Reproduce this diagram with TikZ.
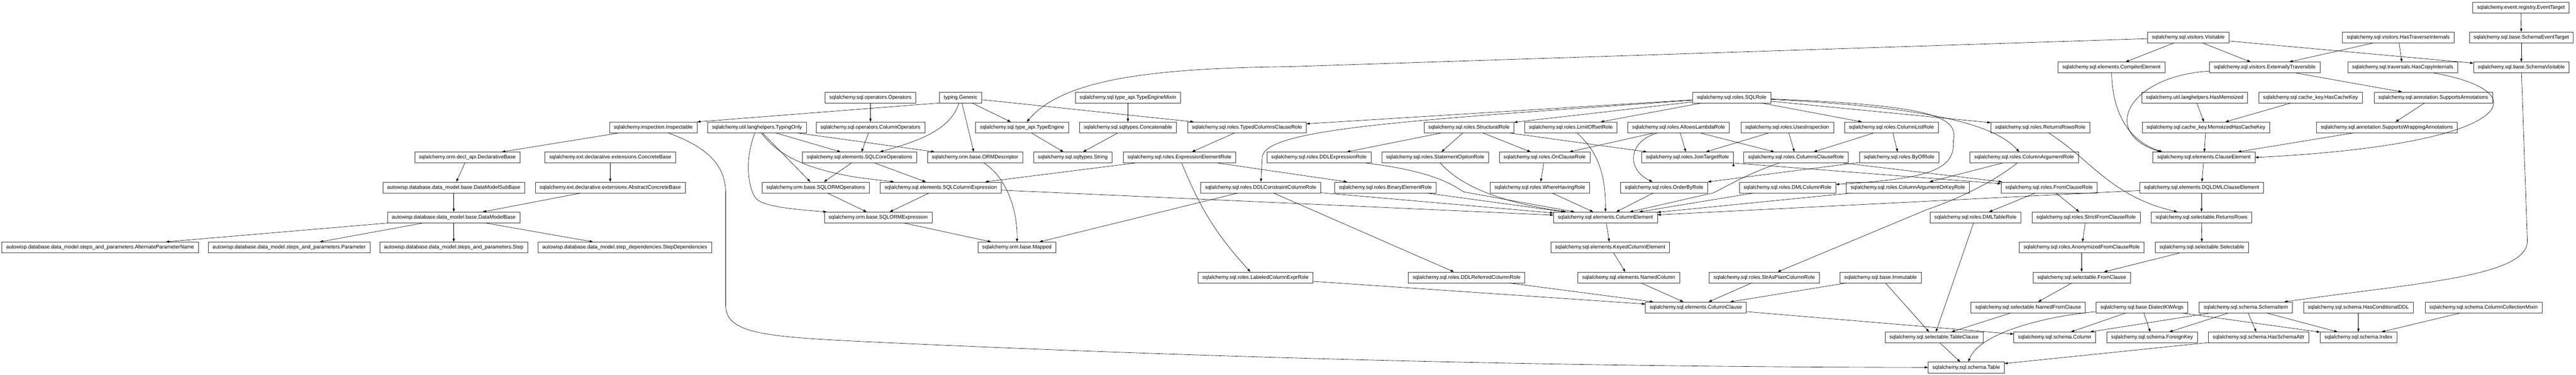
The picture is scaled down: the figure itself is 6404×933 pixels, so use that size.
\documentclass[tikz,border=0pt]{standalone}
\usepackage{fontspec}
\setmainfont{Liberation Sans}
\usetikzlibrary{positioning, arrows.meta}
\tikzset{->,
         >={Triangle[length=4pt, width=2.8pt]},
         line width=0.5pt,
         klass/.style={draw=black!80, rectangle, inner xsep=5.4pt, inner ysep=0pt,
                       minimum height=13.5pt, text height=4.9pt, text depth=1.4pt,
                       font=\fontsize{6.5pt}{7.8pt}\selectfont},
         }

\begin{document}
\begin{tikzpicture}[x=0.5pt, y=-0.5pt]
    \useasboundingbox (0,0) rectangle (6404,933);

    % rank 0 - 3
    \node[klass] (evtarget) at (6267,18.5) {sqlalchemy.event.registry.EventTarget};
    \node[klass] (visitable) at (5440,93) {sqlalchemy.sql.visitors.Visitable};
    \node[klass] (hastrav) at (5962,93) {sqlalchemy.sql.visitors.HasTraverseInternals};
    \node[klass] (schemaevt) at (6268,93) {sqlalchemy.sql.base.SchemaEventTarget};
    \node[klass] (compiler) at (5249,168) {sqlalchemy.sql.elements.CompilerElement};
    \node[klass] (exttrav) at (5630,168) {sqlalchemy.sql.visitors.ExternallyTraversible};
    \node[klass] (hascopy) at (5973,168) {sqlalchemy.sql.traversals.HasCopyInternals};
    \node[klass] (schemavis) at (6268,168) {sqlalchemy.sql.base.SchemaVisitable};
    \node[klass] (operators) at (2164,242.6) {sqlalchemy.sql.operators.Operators};
    \node[klass] (generic) at (2388,242.6) {typing.Generic};
    \node[klass] (temixin) at (2804,242.6) {sqlalchemy.sql.type\_api.TypeEngineMixin};
    \node[klass] (sqlrole) at (4305,242.6) {sqlalchemy.sql.roles.SQLRole};
    \node[klass] (hasmemo) at (5456,242.6) {sqlalchemy.util.langhelpers.HasMemoized};
    \node[klass] (hascache) at (5744,242.6) {sqlalchemy.sql.cache\_key.HasCacheKey};
    \node[klass] (suppann) at (6049,242.6) {sqlalchemy.sql.annotation.SupportsAnnotations};

    % rank 4
    \node[klass] (inspectable) at (1624,317.3) {sqlalchemy.inspection.Inspectable};
    \node[klass] (typingonly) at (1882,317.3) {sqlalchemy.util.langhelpers.TypingOnly};
    \node[klass] (colops) at (2164,317.3) {sqlalchemy.sql.operators.ColumnOperators};
    \node[klass] (typeengine) at (2541,317.3) {sqlalchemy.sql.type\_api.TypeEngine};
    \node[klass] (concat) at (2804,317.3) {sqlalchemy.sql.sqltypes.Concatenable};
    \node[klass] (typedcc) at (3100,317.3) {sqlalchemy.sql.roles.TypedColumnsClauseRole};
    \node[klass] (structural) at (3652,317.3) {sqlalchemy.sql.roles.StructuralRole};
    \node[klass] (limitoffset) at (3905,317.3) {sqlalchemy.sql.roles.LimitOffsetRole};
    \node[klass] (lambda) at (4173,317.3) {sqlalchemy.sql.roles.AllowsLambdaRole};
    \node[klass] (usesinsp) at (4443,317.3) {sqlalchemy.sql.roles.UsesInspection};
    \node[klass] (collist) at (4702,317.3) {sqlalchemy.sql.roles.ColumnListRole};
    \node[klass] (retrowsrole) at (5072,317.3) {sqlalchemy.sql.roles.ReturnsRowsRole};
    \node[klass] (memocache) at (5484,317.3) {sqlalchemy.sql.cache\_key.MemoizedHasCacheKey};
    \node[klass] (suppwrap) at (5934,317.3) {sqlalchemy.sql.annotation.SupportsWrappingAnnotations};

    % rank 5
    \node[klass] (declbase) at (1162,392) {sqlalchemy.orm.decl\_api.DeclarativeBase};
    \node[klass] (concrete) at (1517,392) {sqlalchemy.ext.declarative.extensions.ConcreteBase};
    \node[klass] (sqlcoreops) at (2137,392) {sqlalchemy.sql.elements.SQLCoreOperations};
    \node[klass] (ormdesc) at (2424,392) {sqlalchemy.orm.base.ORMDescriptor};
    \node[klass] (string) at (2667,392) {sqlalchemy.sql.sqltypes.String};
    \node[klass] (exprelem) at (2932,392) {sqlalchemy.sql.roles.ExpressionElementRole};
    \node[klass] (ddlexpr) at (3279,392) {sqlalchemy.sql.roles.DDLExpressionRole};
    \node[klass] (stmtopt) at (3568,392) {sqlalchemy.sql.roles.StatementOptionRole};
    \node[klass] (onclause) at (3840,392) {sqlalchemy.sql.roles.OnClauseRole};
    \node[klass] (jointarget) at (4195,392) {sqlalchemy.sql.roles.JoinTargetRole};
    \node[klass] (colsclause) at (4465,392) {sqlalchemy.sql.roles.ColumnsClauseRole};
    \node[klass] (byof) at (4721,392) {sqlalchemy.sql.roles.ByOfRole};
    \node[klass] (colarg) at (5032,392) {sqlalchemy.sql.roles.ColumnArgumentRole};
    \node[klass] (clauseelem) at (5479,392) {sqlalchemy.sql.elements.ClauseElement};

    % rank 6
    \node[klass] (subbase) at (1128,466.7) {autowisp.database.data\_model.base.DataModelSubBase};
    \node[klass] (absconcrete) at (1517,466.7) {sqlalchemy.ext.declarative.extensions.AbstractConcreteBase};
    \node[klass] (sqlormops) at (2028,466.7) {sqlalchemy.orm.base.SQLORMOperations};
    \node[klass] (sqlcolexpr) at (2339,466.7) {sqlalchemy.sql.elements.SQLColumnExpression};
    \node[klass] (ddlconstr) at (3134,466.7) {sqlalchemy.sql.roles.DDLConstraintColumnRole};
    \node[klass] (binelem) at (3444,466.7) {sqlalchemy.sql.roles.BinaryElementRole};
    \node[klass] (wherehaving) at (3828,466.7) {sqlalchemy.sql.roles.WhereHavingRole};
    \node[klass] (orderby) at (4137,466.7) {sqlalchemy.sql.roles.OrderByRole};
    \node[klass] (dmlcol) at (4444,466.7) {sqlalchemy.sql.roles.DMLColumnRole};
    \node[klass] (colargkey) at (4743,466.7) {sqlalchemy.sql.roles.ColumnArgumentOrKeyRole};
    \node[klass] (fromclauserole) at (5094,466.7) {sqlalchemy.sql.roles.FromClauseRole};
    \node[klass] (dqldml) at (5473,466.7) {sqlalchemy.sql.elements.DQLDMLClauseElement};

    % rank 7 - 8
    \node[klass] (modelbase) at (1128,541.4) {autowisp.database.data\_model.base.DataModelBase};
    \node[klass] (sqlormexpr) at (2183,541.4) {sqlalchemy.orm.base.SQLORMExpression};
    \node[klass] (colelem) at (3991,541.4) {sqlalchemy.sql.elements.ColumnElement};
    \node[klass] (dmltable) at (4911,541.4) {sqlalchemy.sql.roles.DMLTableRole};
    \node[klass] (strictfrom) at (5186,541.4) {sqlalchemy.sql.roles.StrictFromClauseRole};
    \node[klass] (returnsrows) at (5473,541.4) {sqlalchemy.sql.selectable.ReturnsRows};
    \node[klass] (altparam) at (249,616.1) {autowisp.database.data\_model.steps\_and\_parameters.AlternateParameterName};
    \node[klass] (parameter) at (719,616.1) {autowisp.database.data\_model.steps\_and\_parameters.Parameter};
    \node[klass] (step) at (1128,616.1) {autowisp.database.data\_model.steps\_and\_parameters.Step};
    \node[klass] (stepdeps) at (1553,616.1) {autowisp.database.data\_model.step\_dependencies.StepDependencies};
    \node[klass] (mapped) at (2528,616.1) {sqlalchemy.orm.base.Mapped};
    \node[klass] (keyedcol) at (4003,616.1) {sqlalchemy.sql.elements.KeyedColumnElement};
    \node[klass] (anonfrom) at (5175,616.1) {sqlalchemy.sql.roles.AnonymizedFromClauseRole};
    \node[klass] (selectable) at (5474,616.1) {sqlalchemy.sql.selectable.Selectable};

    % rank 9 - 12
    \node[klass] (labeled) at (3121,690.8) {sqlalchemy.sql.roles.LabeledColumnExprRole};
    \node[klass] (ddlreferred) at (3646,690.8) {sqlalchemy.sql.roles.DDLReferredColumnRole};
    \node[klass] (namedcol) at (4049,690.8) {sqlalchemy.sql.elements.NamedColumn};
    \node[klass] (strplain) at (4386,690.8) {sqlalchemy.sql.roles.StrAsPlainColumnRole};
    \node[klass] (immutable) at (4675,690.8) {sqlalchemy.sql.base.Immutable};
    \node[klass] (fromclause) at (5175,690.8) {sqlalchemy.sql.selectable.FromClause};
    \node[klass] (colclause) at (4216,765.5) {sqlalchemy.sql.elements.ColumnClause};
    \node[klass] (namedfrom) at (5042,765.5) {sqlalchemy.sql.selectable.NamedFromClause};
    \node[klass] (dialectkw) at (5325,765.5) {sqlalchemy.sql.base.DialectKWArgs};
    \node[klass] (schemaitem) at (5583,765.5) {sqlalchemy.sql.schema.SchemaItem};
    \node[klass] (hascond) at (5863,765.5) {sqlalchemy.sql.schema.HasConditionalDDL};
    \node[klass] (colcollmixin) at (6174,765.5) {sqlalchemy.sql.schema.ColumnCollectionMixin};
    \node[klass] (tableclause) at (4808,840.2) {sqlalchemy.sql.selectable.TableClause};
    \node[klass] (column) at (5108,840.2) {sqlalchemy.sql.schema.Column};
    \node[klass] (foreignkey) at (5350,840.2) {sqlalchemy.sql.schema.ForeignKey};
    \node[klass] (hasschemaattr) at (5615,840.2) {sqlalchemy.sql.schema.HasSchemaAttr};
    \node[klass] (index) at (5863,840.2) {sqlalchemy.sql.schema.Index};
    \node[klass] (table) at (4888,914.9) {sqlalchemy.sql.schema.Table};

    % straight edges
    \draw   (evtarget) edge (schemaevt)
            (schemaevt) edge (schemavis)
            (visitable) edge (compiler)
            (visitable) edge (exttrav)
            (visitable) edge (schemavis)
            (hastrav) edge (exttrav)
            (hastrav) edge (hascopy)
            (exttrav) edge (suppann)
            (hasmemo) edge (memocache)
            (hascache) edge (memocache)
            (suppann) edge (suppwrap)
            (memocache) edge (clauseelem)
            (suppwrap) edge (clauseelem)
            (clauseelem) edge (dqldml)
            (dqldml) edge (returnsrows)
            (dqldml) edge (colelem)
            (returnsrows) edge (selectable)
            (selectable) edge (fromclause)
            (operators) edge (colops)
            (colops) edge (sqlcoreops)
            (generic.south west) edge (inspectable.north east)
            (generic) edge (typeengine)
            (generic) edge (ormdesc)
            (generic) edge (typedcc)
            (temixin) edge (concat)
            (typeengine) edge (string)
            (concat) edge (string)
            (inspectable) edge (declbase)
            (typingonly) edge (sqlcoreops)
            (typingonly) edge (sqlormops)
            (typingonly) edge (ormdesc)
            (concrete) edge (absconcrete)
            (declbase) edge (subbase)
            (subbase) edge (modelbase)
            (absconcrete) edge (modelbase)
            (modelbase) edge (altparam)
            (modelbase) edge (parameter)
            (modelbase) edge (step)
            (modelbase) edge (stepdeps)
            (sqlcoreops) edge (sqlormops)
            (sqlcoreops) edge (sqlcolexpr)
            (sqlormops) edge (sqlormexpr)
            (sqlcolexpr) edge (sqlormexpr)
            (sqlcolexpr) edge (colelem)
            (sqlormexpr) edge (mapped)
            (ddlconstr) edge (mapped)
            (typedcc) edge (exprelem)
            (exprelem) edge (sqlcolexpr)
            (exprelem) edge[bend right=10] (labeled)
            (exprelem) edge (binelem)
            (sqlrole) edge (typedcc)
            (sqlrole) edge (structural)
            (sqlrole) edge (limitoffset)
            (sqlrole) edge (collist)
            (sqlrole) edge (retrowsrole)
            (structural) edge (ddlexpr)
            (structural) edge (stmtopt)
            (structural) edge (onclause)
            (structural) edge (jointarget)
            (lambda) edge (onclause)
            (lambda) edge (jointarget)
            (lambda) edge (colsclause)
            (usesinsp) edge (jointarget)
            (usesinsp) edge (colsclause)
            (collist) edge (colsclause)
            (collist) edge (byof)
            (onclause) edge (wherehaving)
            (byof) edge (orderby)
            (colsclause) edge (fromclauserole)
            (jointarget.south east) edge (fromclauserole)
            (colarg) edge (colargkey)
            (ddlconstr) edge (ddlreferred)
            (ddlconstr) edge (colelem)
            (binelem) edge (colelem)
            (wherehaving) edge (colelem)
            (orderby) edge (colelem)
            (dmlcol) edge (colelem)
            (colargkey) edge (colelem)
            (colelem) edge (keyedcol)
            (keyedcol) edge (namedcol)
            (namedcol) edge (colclause)
            (labeled) edge (colclause)
            (ddlreferred) edge (colclause)
            (strplain) edge (colclause)
            (immutable) edge (colclause)
            (immutable) edge (tableclause)
            (fromclauserole) edge (dmltable)
            (fromclauserole) edge (strictfrom)
            (strictfrom) edge (anonfrom)
            (anonfrom) edge (fromclause)
            (fromclause) edge (namedfrom)
            (namedfrom) edge (tableclause)
            (dmltable) edge (tableclause)
            (tableclause) edge (table)
            (colclause) edge (column)
            (dialectkw) edge (column)
            (dialectkw) edge (foreignkey)
            (dialectkw) edge (index)
            (schemaitem) edge (column)
            (schemaitem) edge (foreignkey)
            (schemaitem) edge (hasschemaattr)
            (schemaitem) edge (index)
            (hascond) edge (index)
            (colcollmixin) edge (index)
            (hasschemaattr) edge (table);

    % curved edges
    \draw (visitable) -- (3204,166) .. controls (2850,170) and (2640,200) .. (typeengine);
    \draw (inspectable) .. controls (1740,360) and (1804,400) .. (1804,480) -- (1804,760)
          .. controls (1804,830) and (1900,838) .. (2137,850)
          .. controls (3300,905) and (4200,914) .. (table);
    \draw (schemavis) -- (6283,600) .. controls (6283,690) and (6000,705) .. (schemaitem);
    \draw (exttrav) .. controls (5290,190) and (5220,330) .. ([xshift=10pt]clauseelem.north west);
    \draw (hascopy) .. controls (6320,230) and (6250,360) .. (clauseelem.east);
    \draw (compiler) .. controls (5252,280) and (5290,350) .. ([xshift=12pt]clauseelem.north west);
    \draw (retrowsrole) .. controls (5200,400) and (5250,490) .. (returnsrows);
    \draw (sqlrole) .. controls (4800,262) and (4870,290) .. (4856,350)
          .. controls (4862,425) and (4790,445) .. (dmlcol);
    \draw (sqlrole) .. controls (4750,265) and (4950,300) .. (colarg);
    \draw (sqlrole) .. controls (3500,300) and (3150,320) .. (3138,390) -- (ddlconstr);
    \draw (lambda) .. controls (4050,350) and (4040,420) .. (orderby);
    \draw (limitoffset) .. controls (3975,380) and (3992,440) .. (colelem);
    \draw (ddlexpr) .. controls (3580,428) and (3620,468) .. (3640,478) -- (colelem);
    \draw (stmtopt) .. controls (3620,450) and (3700,500) .. (colelem);
    \draw (ormdesc) .. controls (2500,440) and (2530,520) .. (mapped);
    \draw (generic) .. controls (2365,320) and (2290,350) .. (sqlcoreops);
    \draw (typingonly) .. controls (1850,400) and (1860,470) .. (1880,495)
          .. controls (1900,515) and (1980,522) .. ([xshift=3pt]sqlormexpr.north west);
    \draw (typingonly) .. controls (1930,380) and (1990,420) .. (2140,443) -- (sqlcolexpr);
    \draw (colarg) .. controls (4960,450) and (4870,495) .. (4790,522) -- (strplain);
    \draw (colsclause) .. controls (4350,430) and (4290,465) .. (4260,480) -- (colelem);
    \draw (dialectkw) .. controls (5080,788) and (4920,830) .. (table);
\end{tikzpicture}
\end{document}
